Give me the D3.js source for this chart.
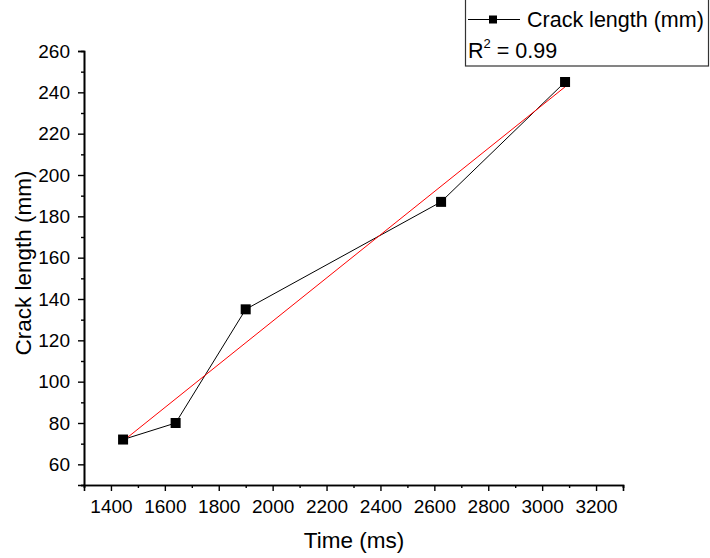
<!DOCTYPE html>
<html>
<head>
<meta charset="utf-8">
<script src="https://cdn.jsdelivr.net/npm/d3@7"></script>
<style>
  body { margin: 0; background: #fff; }
  text { font-family: "Liberation Sans", Arial, sans-serif; fill: #000; }
</style>
</head>
<body>
<script>
// values
var timeMs = [1445, 1640, 1900, 2625, 3085];
var crackMm = [72, 80, 135, 187, 245];
var xTicks = [1400, 1600, 1800, 2000, 2200, 2400, 2600, 2800, 3000, 3200];
var yTicks = [60, 80, 100, 120, 140, 160, 180, 200, 220, 240, 260];
var r2Label = "0.99";

var W = 710, H = 558;
var svg = d3.select("body").append("svg").attr("width", W).attr("height", H);

var x = d3.scaleLinear().domain([1300, 3300]).range([84, 623]);
var y = d3.scaleLinear().domain([50, 260]).range([485, 51]);

// axes - major ticks labelled, minor ticks half way
var xAxis = d3.axisBottom(x).tickValues(xTicks).tickSize(6).tickPadding(9).tickFormat(d3.format("d"));
var xMinor = d3.axisBottom(x).tickValues(d3.range(1300, 3301, 200)).tickSize(3).tickFormat("");
var yAxis = d3.axisLeft(y).tickValues(yTicks).tickSize(6).tickPadding(8).tickFormat(d3.format("d"));
var yMinor = d3.axisLeft(y).tickValues(d3.range(50, 260, 20)).tickSize(3).tickFormat("");

function style(g) {
  g.selectAll("path.domain").attr("stroke", "#000").attr("stroke-width", 1.6);
  g.selectAll(".tick line").attr("stroke", "#000").attr("stroke-width", 1.4);
  g.selectAll(".tick text").attr("font-size", 19).attr("font-family", "Liberation Sans, Arial, sans-serif");
}

svg.append("g").attr("transform", "translate(0,485)").call(xMinor).call(style);
svg.append("g").attr("transform", "translate(0,485)").call(xAxis).call(style);
svg.append("g").attr("transform", "translate(84,0)").call(yMinor).call(style);
svg.append("g").attr("transform", "translate(84,0)").call(yAxis).call(style);

// axis titles
svg.append("text").attr("x", 354).attr("y", 548).attr("text-anchor", "middle")
  .attr("font-size", 22.5).text("Time (ms)");
svg.append("text").attr("transform", "translate(31,263) rotate(-90)").attr("text-anchor", "middle")
  .attr("font-size", 22.5).text("Crack length (mm)");

// linear fit
var mx = d3.mean(timeMs), my = d3.mean(crackMm);
var sxy = d3.sum(timeMs, function(d, i) { return (d - mx) * (crackMm[i] - my); });
var sxx = d3.sum(timeMs, function(d) { return (d - mx) * (d - mx); });
var slope = sxy / sxx, icpt = my - slope * mx;
var x0 = d3.min(timeMs), x1 = d3.max(timeMs);

var pts = timeMs.map(function(d, i) { return [d, crackMm[i]]; });
var line = d3.line().x(function(d) { return x(d[0]); }).y(function(d) { return y(d[1]); });

svg.append("path").datum(pts).attr("d", line)
  .attr("fill", "none").attr("stroke", "#000").attr("stroke-width", 1);

svg.append("path").datum([[x0, icpt + slope * x0], [x1, icpt + slope * x1]]).attr("d", line)
  .attr("fill", "none").attr("stroke", "#ff0000").attr("stroke-width", 1);

svg.selectAll("rect.pt").data(pts).enter().append("rect").attr("class", "pt")
  .attr("x", function(d) { return x(d[0]) - 5; })
  .attr("y", function(d) { return y(d[1]) - 5; })
  .attr("width", 10).attr("height", 10).attr("fill", "#000");

// legend
var lg = svg.append("g");
lg.append("rect").attr("x", 465.5).attr("y", -1).attr("width", 243).attr("height", 67)
  .attr("fill", "#fff").attr("stroke", "#333").attr("stroke-width", 1.2);
lg.append("line").attr("x1", 468).attr("x2", 520).attr("y1", 19.5).attr("y2", 19.5)
  .attr("stroke", "#000").attr("stroke-width", 1);
lg.append("rect").attr("x", 489).attr("y", 15.5).attr("width", 8).attr("height", 8).attr("fill", "#000");
lg.append("text").attr("x", 527).attr("y", 27).attr("font-size", 21.5).text("Crack length (mm)");
var r2 = lg.append("text").attr("x", 468).attr("y", 58).attr("font-size", 21.5);
r2.append("tspan").text("R");
r2.append("tspan").attr("font-size", 13).attr("dy", -10).text("2");
r2.append("tspan").attr("dy", 10).text(" = " + r2Label);
</script>
</body>
</html>
